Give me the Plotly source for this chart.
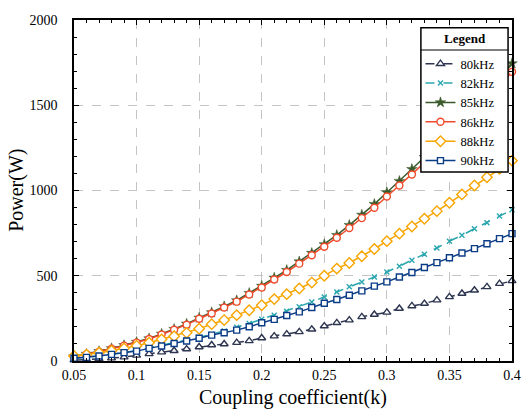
import plotly.graph_objects as go

# coupling coefficient k, 0.05 .. 0.40 step 0.01
k = [0.05, 0.06, 0.07, 0.08, 0.09, 0.10, 0.11, 0.12, 0.13, 0.14, 0.15,
     0.16, 0.17, 0.18, 0.19, 0.20, 0.21, 0.22, 0.23, 0.24, 0.25,
     0.26, 0.27, 0.28, 0.29, 0.30, 0.31, 0.32, 0.33, 0.34, 0.35,
     0.36, 0.37, 0.38, 0.39, 0.40]

p80 = [5, 8, 12, 17, 23, 33, 42, 52, 60, 70, 82,
       94, 100, 108, 118, 135, 146, 158, 171, 186, 205,
       224, 240, 259, 273, 285, 308, 323, 337, 357, 376,
       396, 415, 435, 454, 470]
p82 = [16, 22, 30, 40, 51, 61, 77, 92, 107, 122, 139,
       157, 176, 198, 220, 245, 268, 292, 318, 346, 376,
       405, 435, 464, 493, 522, 556, 591, 626, 663, 703,
       737, 776, 811, 850, 887]
p85 = [26, 41, 57, 74, 92, 111, 132, 159, 187, 218, 253,
       285, 320, 355, 398, 440, 488, 533, 583, 633, 684,
       738, 797, 857, 920, 988, 1055, 1125, 1195, 1268, 1343,
       1420, 1499, 1580, 1662, 1745]
p86 = [25, 40, 55, 72, 90, 108, 129, 155, 183, 213, 248,
       279, 314, 348, 390, 431, 478, 522, 571, 620, 670,
       723, 780, 838, 899, 965, 1029, 1094, 1162, 1232, 1304,
       1378, 1454, 1532, 1612, 1696]
p88 = [29, 37, 49, 60, 74, 90, 107, 127, 145, 165, 189,
       216, 240, 269, 298, 327, 363, 392, 425, 460, 500,
       542, 575, 614, 657, 703, 747, 789, 834, 879, 928,
       977, 1029, 1078, 1127, 1175]
p90 = [16, 21, 29, 39, 49, 58, 74, 88, 103, 117, 133,
       152, 166, 181, 201, 224, 244, 267, 288, 314, 339,
       361, 386, 411, 439, 464, 493, 519, 548, 577, 606,
       633, 659, 688, 718, 747]

x_ticks = [0.05, 0.1, 0.15, 0.2, 0.25, 0.3, 0.35, 0.4]
x_labels = ["0.05", "0.1", "0.15", "0.2", "0.25", "0.3", "0.35", "0.4"]
y_ticks = [0, 500, 1000, 1500, 2000]

FONT = "Liberation Serif"

# name, values, colour, dash, symbol, size, fill
series = [
    ("80kHz", p80, "#2d3550", "dash", "triangle-up", 7, "white"),
    ("82kHz", p82, "#2aa6ae", "dash", "x-thin", 5, "white"),
    ("85kHz", p85, "#3b5a2c", "solid", "star", 8, "#3b5a2c"),
    ("86kHz", p86, "#f04a2a", "solid", "circle", 7, "white"),
    ("88kHz", p88, "#f7a500", "solid", "diamond", 8, "white"),
    ("90kHz", p90, "#0b3c86", "solid", "square", 6, "white"),
]

fig = go.Figure()
for name, vals, color, dash, sym, size, fill in series:
    fig.add_trace(go.Scatter(
        x=k, y=vals, name=name, mode="lines+markers", cliponaxis=False,
        line=dict(color=color, width=1.5, dash=dash),
        marker=dict(symbol=sym, size=size, color=fill,
                    line=dict(color=color, width=1.4 if sym != "star" else 0.5)),
    ))

axis_common = dict(
    showline=True, linecolor="black", linewidth=1.5, mirror="ticks",
    ticks="inside", ticklen=5, tickwidth=1.2, tickcolor="black",
    showgrid=True, gridcolor="#c4c4c4", griddash="dash", gridwidth=1,
    zeroline=False, automargin=False,
    tickfont=dict(family=FONT, size=14, color="black"),
)

fig.update_xaxes(
    range=[0.05, 0.4], tickvals=x_ticks, ticktext=x_labels, ticklabelstandoff=0,
    minor=dict(dtick=0.01, tick0=0.05, ticks="inside", ticklen=3, tickcolor="black", showgrid=False),
    **axis_common,
)
fig.update_yaxes(
    range=[0, 2000], tickvals=y_ticks, ticklabelstandoff=12,
    minor=dict(dtick=100, ticks="inside", ticklen=3, tickcolor="black", showgrid=False),
    **axis_common,
)

fig.update_layout(
    width=522, height=417,
    margin=dict(l=74, r=10, t=20, b=56),
    paper_bgcolor="white", plot_bgcolor="white",
    font=dict(family=FONT, color="black"),
    legend=dict(
        x=0.791, y=0.915, xanchor="left", yanchor="top",
        bgcolor="rgba(0,0,0,0)", borderwidth=0,
        font=dict(family=FONT, size=12.6, color="black"),
        tracegroupgap=0, itemwidth=30,
    ),
    showlegend=True,
)

# axis titles
fig.add_annotation(text="Coupling coefficient(k)", xref="paper", yref="paper",
                   x=0.5, y=-0.108, xanchor="center", yanchor="middle", showarrow=False,
                   font=dict(family=FONT, size=20, color="black"))
fig.add_annotation(text="Power(W)", xref="paper", yref="paper", textangle=-90,
                   x=-0.1625, y=0.5, xanchor="left", yanchor="middle", showarrow=False,
                   font=dict(family=FONT, size=20, color="black"))

# legend box, its header and the line under the header
fig.add_shape(type="rect", xref="paper", yref="paper", layer="above",
              x0=0.792, x1=0.991, y0=0.554, y1=0.977,
              fillcolor="white", line=dict(color="black", width=1.5))
fig.add_shape(type="line", xref="paper", yref="paper", layer="above",
              x0=0.792, x1=0.991, y0=0.912, y1=0.912,
              line=dict(color="black", width=1.2))
fig.add_annotation(text="<b>Legend</b>", xref="paper", yref="paper",
                   x=0.8916, y=0.947, xanchor="center", yanchor="middle", showarrow=False,
                   font=dict(family=FONT, size=13, color="black"))

# drop the page's default body margin so the 522x417 figure fills the window
fig.write_html("out.html", config={"displayModeBar": False},
               post_script="document.body.style.margin='0';")
